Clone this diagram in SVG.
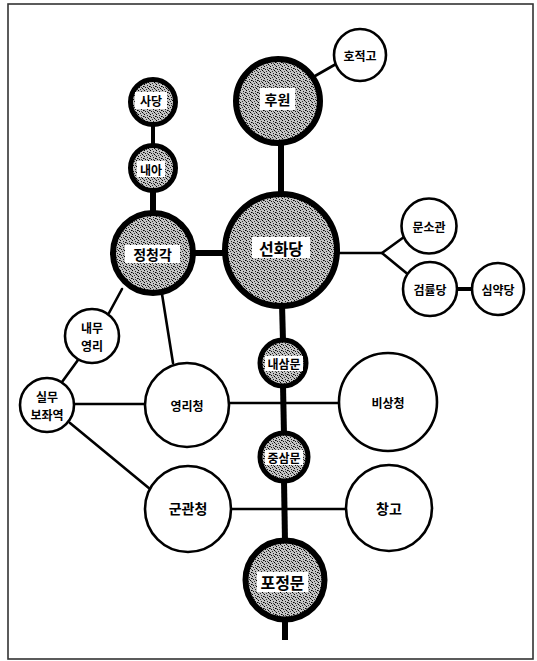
<svg xmlns="http://www.w3.org/2000/svg" width="537" height="661" viewBox="0 0 537 661">
<style>
.frame{fill:none;stroke:#333;stroke-width:1.6}
.thick{stroke:#000;stroke-width:6;fill:none}
.mid{stroke:#000;stroke-width:4;fill:none}
.thin{stroke:#000;stroke-width:2.6;fill:none;stroke-linecap:round}
.dark{fill:url(#stip);stroke:#000;stroke-width:6}
.darks{fill:url(#stip);stroke:#000;stroke-width:5}
.white{fill:#fff;stroke:#000;stroke-width:2.6}
.box{fill:#fff;stroke:none}
text{font-family:"Noto Sans CJK KR","Noto Sans",sans-serif;font-weight:bold;fill:#000;text-anchor:middle;dominant-baseline:central}
.l{font-size:16px}.m{font-size:14px}.s{font-size:12px}.w{font-size:12px;font-weight:bold}
</style>
<defs>
<pattern id="stip" width="6" height="6" patternUnits="userSpaceOnUse">
<rect width="6" height="6" fill="#c4c4c4"/>
<rect x="0" y="0" width="1" height="1" fill="#000"/>
<rect x="3" y="1" width="1" height="1" fill="#222"/>
<rect x="5" y="2" width="1" height="1" fill="#000"/>
<rect x="1" y="3" width="1" height="1" fill="#111"/>
<rect x="4" y="4" width="1" height="1" fill="#000"/>
<rect x="2" y="5" width="1" height="1" fill="#333"/>
<rect x="0" y="2" width="1" height="1" fill="#555"/>
<rect x="3" y="3" width="1" height="1" fill="#444"/>
<rect x="5" y="5" width="1" height="1" fill="#555"/>
</pattern>
</defs>
<rect class="frame" x="8" y="4" width="525" height="655"/>
<g id="connectors">
<line class="thin" x1="315" y1="76" x2="336" y2="64"/>
<line class="thick" x1="281" y1="140" x2="281" y2="196"/>
<line class="mid" x1="153" y1="124" x2="153" y2="146"/>
<line class="thick" x1="153" y1="190" x2="153" y2="213"/>
<line class="thick" x1="192" y1="253" x2="226" y2="253"/>
<line class="thin" x1="338" y1="253" x2="382" y2="253"/>
<polyline class="thin" points="404,237 382,253 410,276"/>
<line class="mid" x1="457" y1="289" x2="472" y2="289"/>
<line class="thin" x1="122" y1="289" x2="109" y2="313"/>
<line class="thin" x1="162" y1="294" x2="173" y2="363"/>
<line class="thin" x1="78" y1="360" x2="62" y2="382"/>
<line class="thin" x1="75" y1="404" x2="145" y2="404"/>
<line class="thin" x1="229" y1="403" x2="339" y2="403"/>
<line class="thin" x1="70" y1="423" x2="150" y2="489"/>
<line class="thin" x1="231" y1="509" x2="346" y2="509"/>
<line class="thick" x1="282" y1="304" x2="283" y2="341"/>
<line class="thick" x1="283" y1="385" x2="284" y2="435"/>
<line class="thick" x1="284" y1="480" x2="285" y2="542"/>
<line class="thick" x1="285" y1="618" x2="285" y2="640"/>
</g>
<g id="hojeokgo"><circle class="white" cx="360" cy="55" r="26"/><text class="w" x="360" y="55">호적고</text></g>
<g id="huwon"><circle class="dark" cx="278" cy="101" r="42"/><rect class="box" x="260" y="88" width="35" height="22"/><text class="m" x="277.5" y="99">후원</text></g>
<g id="sadang"><circle class="darks" cx="153" cy="102" r="22.5"/><rect class="box" x="135" y="92" width="32" height="17"/><text class="s" x="151" y="100.5">사당</text></g>
<g id="naea"><circle class="darks" cx="153" cy="168" r="22.5"/><rect class="box" x="137" y="161" width="28" height="16"/><text class="s" x="151" y="169">내아</text></g>
<g id="jeongcheonggak"><circle class="dark" cx="153" cy="253" r="40"/><rect class="box" x="125" y="245" width="55" height="18"/><text class="m" x="152.5" y="254">정청각</text></g>
<g id="seonhwadang"><circle class="dark" cx="281" cy="250" r="56"/><rect class="box" x="252" y="237" width="58" height="21"/><text class="l" x="281" y="247.5">선화당</text></g>
<g id="munsogwan"><circle class="white" cx="429" cy="226" r="27.5"/><text class="w" x="429" y="226">문소관</text></g>
<g id="geomryuldang"><circle class="white" cx="430" cy="289" r="27"/><text class="w" x="430" y="289">검률당</text></g>
<g id="simyakdang"><circle class="white" cx="498" cy="289" r="26"/><text class="w" x="498" y="289">심약당</text></g>
<g id="naemuyeongni"><circle class="white" cx="92" cy="336" r="27"/><text class="w" x="92" y="327">내무</text><text class="w" x="92" y="345">영리</text></g>
<g id="silmubojwayeok"><circle class="white" cx="47" cy="405" r="27"/><text class="w" x="47" y="396">실무</text><text class="w" x="47" y="414">보좌역</text></g>
<g id="yeongnicheong"><circle class="white" cx="187" cy="405" r="42"/><text class="w" x="187" y="405">영리청</text></g>
<g id="naesammun"><circle class="darks" cx="283" cy="363" r="23"/><rect class="box" x="265" y="356" width="38" height="15"/><text class="s" x="284" y="363">내삼문</text></g>
<g id="bisangcheong"><circle class="white" cx="388" cy="402" r="49"/><text class="w" x="388" y="402">비상청</text></g>
<g id="jungsammun"><circle class="darks" cx="284" cy="457" r="24"/><rect class="box" x="265" y="450" width="38" height="15"/><text class="s" x="284" y="457.5">중삼문</text></g>
<g id="gungwancheong"><circle class="white" cx="188" cy="509" r="43"/><text class="m" x="188" y="508">군관청</text></g>
<g id="changgo"><circle class="white" cx="389" cy="508" r="43"/><text class="m" x="389" y="508">창고</text></g>
<g id="pojeongmun"><circle class="dark" cx="285" cy="580" r="39.5"/><rect class="box" x="257" y="572" width="51" height="20"/><text class="l" x="282.5" y="582">포정문</text></g>
</svg>
